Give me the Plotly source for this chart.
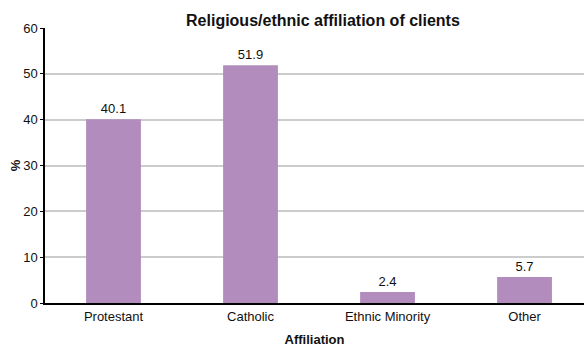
import plotly.graph_objects as go

# Share of clients by religious/ethnic affiliation (%)
categories = ["Protestant", "Catholic", "Ethnic Minority", "Other"]
percentages = [40.1, 51.9, 2.4, 5.7]
y_ticks = [0, 10, 20, 30, 40, 50, 60]

FONT = "Liberation Sans, Arial, sans-serif"
BAR_COLOR = "#b18cbc"
TEXT_COLOR = "#111111"

fig = go.Figure(
    go.Bar(
        x=categories,
        y=percentages,
        marker=dict(color=BAR_COLOR, line=dict(width=0)),
        text=[f"{v:.1f}" for v in percentages],
        textposition="outside",
        textfont=dict(family=FONT, size=13, color=TEXT_COLOR),
        cliponaxis=False,
    )
)

fig.update_layout(
    width=584,
    height=347,
    margin=dict(l=45, r=0, t=28, b=44),
    paper_bgcolor="white",
    plot_bgcolor="white",
    bargap=0.6,
    showlegend=False,
    font=dict(family=FONT, size=13, color=TEXT_COLOR),
    title=dict(
        text="<b>Religious/ethnic affiliation of clients</b>",
        x=0.553,
        xanchor="center",
        y=0.942,
        yanchor="middle",
        font=dict(family=FONT, size=16, color=TEXT_COLOR),
    ),
    xaxis=dict(
        range=[-0.5, 3.434],
        showline=True,
        linecolor="#000000",
        linewidth=2,
        ticks="",
        showgrid=False,
        tickfont=dict(family=FONT, size=13, color=TEXT_COLOR),
        title=dict(
            text="<b>Affiliation</b>",
            font=dict(family=FONT, size=13, color=TEXT_COLOR),
            standoff=13,
        ),
    ),
    yaxis=dict(
        range=[0, 60],
        tickvals=y_ticks,
        showline=True,
        linecolor="#000000",
        linewidth=1.5,
        ticks="outside",
        ticklen=3,
        tickcolor="#000000",
        showgrid=True,
        gridcolor="#cccccc",
        gridwidth=1.5,
        zeroline=False,
        tickfont=dict(family=FONT, size=13, color=TEXT_COLOR),
        title=dict(
            text="<b>%</b>",
            font=dict(family=FONT, size=13, color=TEXT_COLOR),
            standoff=0,
        ),
    ),
)

fig.write_html("out.html")
